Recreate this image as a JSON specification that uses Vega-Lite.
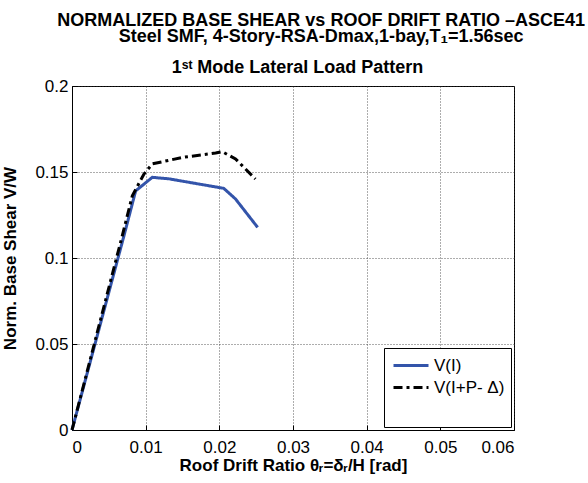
{
  "$schema": "https://vega.github.io/schema/vega-lite/v6.json",
  "background": "white",
  "padding": {"left": 1, "top": 11, "right": 5, "bottom": 5},
  "config": {
    "font": "Liberation Sans",
    "view": {"stroke": "black", "strokeWidth": 1},
    "axis": {
      "labelFont": "Liberation Sans", "labelFontSize": 17, "labelColor": "black",
      "titleFont": "Liberation Sans", "titleFontSize": 17, "titleFontWeight": "bold", "titleColor": "black",
      "domainColor": "black", "tickColor": "black", "tickSize": -5, "labelPadding": 9,
      "gridColor": "#333", "gridDash": [1, 2], "gridOpacity": 0.8
    }
  },
  "title": {
    "text": ["NORMALIZED BASE SHEAR vs ROOF DRIFT RATIO –ASCE41", "Steel SMF, 4-Story-RSA-Dmax,1-bay,T₁=1.56sec"],
    "fontSize": 18, "fontWeight": "bold", "color": "black", "anchor": "middle", "lineHeight": 16, "offset": 13, "dx": 63
  },
  "vconcat": [
    {
      "width": 442,
      "height": 344,
      "title": {"text": "1ˢᵗ Mode Lateral Load Pattern", "fontSize": 18, "fontWeight": "bold", "color": "black", "anchor": "middle", "frame": "group", "offset": 0, "dx": 4.5},
      "data": {
        "values": [
          {"x": 0, "y": 0, "s": "V(I)"},
          {"x": 0.00706, "y": 0.113, "s": "V(I)"},
          {"x": 0.00864, "y": 0.139, "s": "V(I)"},
          {"x": 0.0109, "y": 0.1469, "s": "V(I)"},
          {"x": 0.0132, "y": 0.146, "s": "V(I)"},
          {"x": 0.0206, "y": 0.1405, "s": "V(I)"},
          {"x": 0.0222, "y": 0.1343, "s": "V(I)"},
          {"x": 0.0252, "y": 0.1178, "s": "V(I)"},
          {"x": 0, "y": 0, "s": "V(I+P- Δ)"},
          {"x": 0.00683, "y": 0.113, "s": "V(I+P- Δ)"},
          {"x": 0.00819, "y": 0.1362, "s": "V(I+P- Δ)"},
          {"x": 0.00977, "y": 0.1488, "s": "V(I+P- Δ)"},
          {"x": 0.0109, "y": 0.1547, "s": "V(I+P- Δ)"},
          {"x": 0.015, "y": 0.1585, "s": "V(I+P- Δ)"},
          {"x": 0.0195, "y": 0.161, "s": "V(I+P- Δ)"},
          {"x": 0.0204, "y": 0.1618, "s": "V(I+P- Δ)"},
          {"x": 0.0222, "y": 0.1576, "s": "V(I+P- Δ)"},
          {"x": 0.0249, "y": 0.1459, "s": "V(I+P- Δ)"}
        ]
      },
      "mark": {"type": "line", "strokeWidth": 3},
      "encoding": {
        "x": {
          "field": "x", "type": "quantitative",
          "scale": {"domain": [0, 0.06], "nice": false},
          "axis": {"values": [0, 0.01, 0.02, 0.03, 0.04, 0.05, 0.06], "format": "~g", "title": "Roof Drift Ratio θᵣ=δᵣ/H [rad]", "titlePadding": 2, "labelPadding": 14}
        },
        "y": {
          "field": "y", "type": "quantitative",
          "scale": {"domain": [0, 0.2], "nice": false},
          "axis": {"values": [0, 0.05, 0.1, 0.15, 0.2], "format": "~g", "title": "Norm. Base Shear V/W", "titlePadding": 15}
        },
        "color": {
          "field": "s", "type": "nominal",
          "scale": {"domain": ["V(I)", "V(I+P- Δ)"], "range": ["#3354aa", "black"]},
          "legend": {
            "orient": "none", "legendX": 312, "legendY": 262,
            "title": " ", "titleOrient": "bottom", "titleFontSize": 14, "titlePadding": 11,
            "strokeColor": "black", "fillColor": "white", "padding": 6,
            "symbolType": "M-1.75,0H1.75", "symbolSize": 400, "symbolStrokeWidth": 3, "symbolOffset": 9.5,
            "labelOffset": 11.5, "labelFontSize": 17, "labelColor": "black", "rowPadding": 2
          }
        },
        "strokeDash": {
          "field": "s", "type": "nominal",
          "scale": {"domain": ["V(I)", "V(I+P- Δ)"], "range": [[1, 0], [9, 4, 3, 4]]},
          "legend": null
        }
      }
    }
  ]
}
